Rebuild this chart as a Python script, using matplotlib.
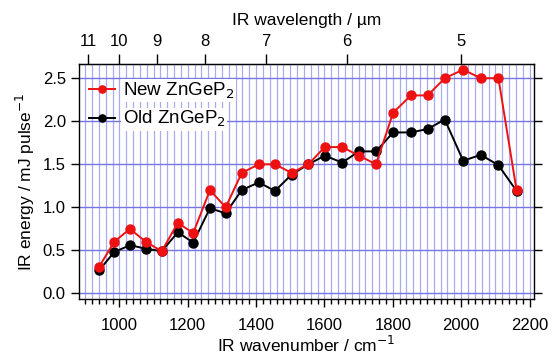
import matplotlib
matplotlib.use("Agg")
import matplotlib.pyplot as plt
import numpy as np
from matplotlib.ticker import MultipleLocator

plt.rcParams['font.family'] = ['Liberation Sans', 'DejaVu Sans']

wavenumber = [941, 985, 1031, 1077, 1124, 1171, 1216, 1265, 1311, 1358, 1408, 1455, 1504,
              1553, 1601, 1652, 1701, 1751, 1801, 1853, 1902, 1952, 2006, 2057, 2109, 2162]
new_zngep2 = [0.31, 0.60, 0.75, 0.60, 0.49, 0.82, 0.70, 1.20, 1.00, 1.40, 1.50, 1.50, 1.40,
              1.50, 1.70, 1.70, 1.60, 1.50, 2.10, 2.30, 2.30, 2.50, 2.60, 2.50, 2.50, 1.20]
old_zngep2 = [0.27, 0.48, 0.56, 0.52, 0.49, 0.71, 0.59, 0.99, 0.93, 1.20, 1.29, 1.19, 1.38,
              1.50, 1.60, 1.52, 1.65, 1.65, 1.87, 1.87, 1.91, 2.02, 1.54, 1.61, 1.49, 1.19]
wavelength_ticks = [11, 10, 9, 8, 7, 6, 5]

fig = plt.figure(figsize=(5.53, 3.54), dpi=100)
ax = fig.add_axes([0.1429, 0.1554, 0.9656 - 0.1429, 0.8192 - 0.1554])

# grid
ax.xaxis.set_major_locator(MultipleLocator(200))
ax.xaxis.set_minor_locator(MultipleLocator(20))
ax.yaxis.set_major_locator(MultipleLocator(0.5))
ax.grid(which='minor', axis='x', color='#aaaaf2', lw=0.9, zorder=0)
ax.grid(which='major', axis='x', color='#aaaaf2', lw=0.9, zorder=0)
ax.grid(which='major', axis='y', color='#7777e4', lw=1.0, zorder=0)
ax.set_axisbelow(True)

ax.plot(wavenumber, new_zngep2, color='#ee1111', lw=1.4, marker='o', ms=6.5,
        label='New ZnGeP$_2$', zorder=3)
ax.plot(wavenumber, old_zngep2, color='black', lw=1.4, marker='o', ms=6.5,
        label='Old ZnGeP$_2$', zorder=2)

ax.set_xlim(882, 2213)
ax.set_ylim(-0.065, 2.665)

ax.tick_params(axis='both', which='major', direction='out', length=6, width=1,
               labelsize=12, colors='black')
ax.tick_params(axis='x', which='minor', direction='out', length=3.5, width=1)
ax.tick_params(axis='y', which='both', right=True)
ax.yaxis.set_major_formatter(matplotlib.ticker.FormatStrFormatter('%.1f'))
ax.tick_params(axis='x', pad=8)
for s in ax.spines.values():
    s.set_linewidth(1.0)

ax.set_xlabel('IR wavenumber / cm$^{-1}$', fontsize=12.5, labelpad=1)
ax.set_ylabel('IR energy / mJ pulse$^{-1}$', fontsize=12.5, labelpad=4)

sec = ax.secondary_xaxis('top', functions=(lambda x: 1e4 / np.asarray(x, float),
                                            lambda x: 1e4 / np.asarray(x, float)))
sec.set_xticks(wavelength_ticks)
sec.set_xticklabels([str(t) for t in wavelength_ticks])
sec.xaxis.set_minor_locator(matplotlib.ticker.NullLocator())
sec.tick_params(axis='x', direction='out', length=7, width=1, labelsize=12, pad=4)
sec.set_xlabel('IR wavelength / µm', fontsize=12.5, labelpad=6)

leg = ax.legend(loc='upper left', bbox_to_anchor=(0.022, 0.93), frameon=False,
                fontsize=13.5, handlelength=1.4, handletextpad=0.4,
                labelspacing=0.45, borderaxespad=0.0, borderpad=0.0,
                markerscale=0.8)
for t in leg.get_texts():
    t.set_bbox(dict(facecolor='white', edgecolor='none', pad=1.0))

fig.savefig('out.png', dpi=100)
